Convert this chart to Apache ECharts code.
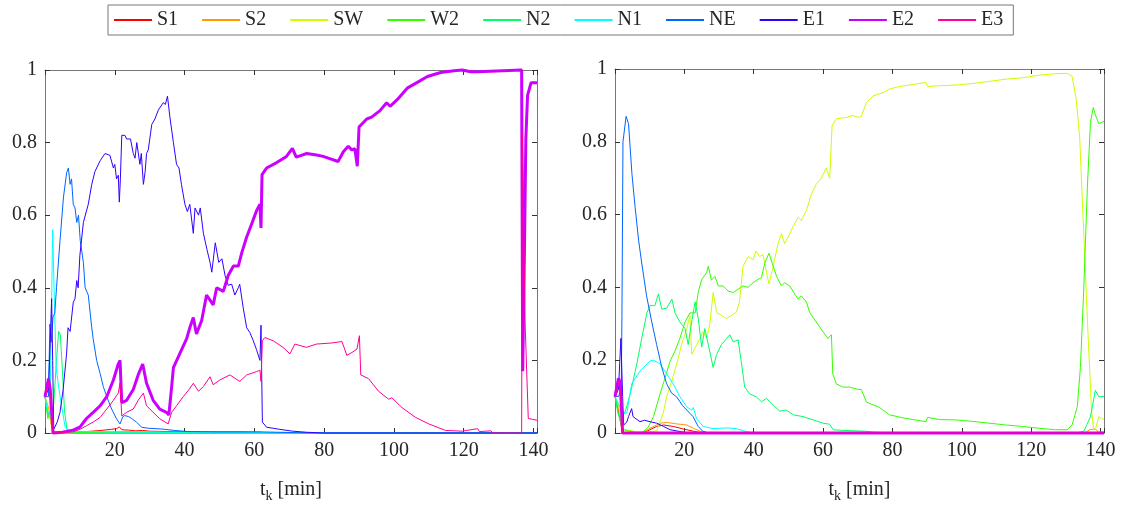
<!DOCTYPE html>
<html>
<head>
<meta charset="utf-8">
<script src="https://cdn.jsdelivr.net/npm/echarts@6/dist/echarts.min.js"></script>
<style>
  html, body { margin: 0; padding: 0; background: #fff; }
  #chart { width: 1123px; height: 508px; }
</style>
</head>
<body>
<div id="chart"></div>
<script>
// series names / colours (MATLAB hsv(10))
var names = ['S1', 'S2', 'SW', 'W2', 'N2', 'N1', 'NE', 'E1', 'E2', 'E3'];
var colors = ['#ff0000', '#ff9900', '#ccff00', '#33ff00', '#00ff66', '#00ffff', '#0066ff', '#3300ff', '#cc00ff', '#ff0099'];
var xTicks = [20, 40, 60, 80, 100, 120, 140];
var yTicks = [0, 0.2, 0.4, 0.6, 0.8, 1];

// ---- left panel: [t_k (min), probability]
var L_S1 = [[0,0.1],[0.8,0.06],[1.5,0.04],[2.3,0],[8,0.002],[12,0.004],[16,0.007],[19,0.01],[20.5,0.012],[21.3,0.017],[22,0.009],[24,0.008],[26,0.006],[28,0.007],[30,0.005],[35,0.004],[45,0.003],[55,0.003],[62,0.002],[63,0],[141,0]];
var L_S2 = [[0,0.1],[1,0.07],[2.3,0],[10,0.001],[20,0.003],[25,0.004],[35,0.002],[50,0.001],[60,0],[141,0]];
var L_SW = [[0,0.1],[1,0.06],[2.3,0],[141,0]];
var L_W2 = [[0,0.1],[0.8,0.04],[1.5,0.06],[2.3,0.005],[6,0.001],[141,0]];
var L_N2 = [[0,0.1],[0.8,0.05],[1.8,0.06],[2.5,0.08],[3.3,0.2],[3.9,0.28],[4.4,0.27],[5,0.17],[5.6,0.06],[6.3,0.01],[8,0.003],[20,0.002],[40,0.001],[141,0]];
var L_N1 = [[0,0.1],[0.8,0.06],[1.4,0.05],[1.8,0.3],[2.2,0.56],[2.6,0.4],[3.2,0.18],[4,0.12],[5,0.06],[5.8,0.015],[7,0.005],[20,0.003],[40,0.002],[80,0.001],[141,0]];
var L_NE = [[0,0.1],[1,0.1],[1.4,0.3],[1.8,0.25],[2.3,0.32],[2.8,0.33],[3.3,0.4],[4.3,0.53],[5.3,0.65],[6.2,0.717],[6.7,0.73],[7.2,0.685],[7.6,0.7],[8.1,0.63],[8.6,0.62],[9.1,0.58],[9.6,0.6],[10.1,0.53],[11,0.47],[11.5,0.4],[12.4,0.38],[13.4,0.29],[13.8,0.26],[14.8,0.2],[15.8,0.164],[16.7,0.128],[17.7,0.1],[19.1,0.066],[20.5,0.039],[21.5,0.025],[21.8,0.022],[22.3,0.045],[22.9,0.048],[24,0.045],[24.8,0.04],[26.2,0.03],[27.7,0.016],[29.6,0.013],[33.4,0.011],[37.2,0.007],[41,0.004],[50,0.003],[62,0.003],[72,0.001],[80,0],[141,0]];
var L_E1 = [[0,0.1],[1,0.12],[1.5,0.25],[1.9,0.37],[2.2,0.2],[2.5,0.01],[3.5,0.03],[4.3,0.057],[5.2,0.12],[6.2,0.22],[6.6,0.29],[7.2,0.28],[8.1,0.36],[8.6,0.37],[9.1,0.42],[9.5,0.4],[10,0.49],[11,0.58],[12.4,0.63],[13.4,0.685],[14.3,0.72],[15.8,0.75],[17.2,0.77],[18.6,0.765],[19.6,0.73],[20,0.74],[20.5,0.7],[21,0.71],[21.3,0.636],[21.6,0.7],[22,0.82],[22.9,0.82],[23.4,0.81],[23.9,0.815],[24.5,0.81],[25.3,0.77],[25.8,0.757],[26.3,0.8],[27.2,0.74],[27.6,0.77],[28.2,0.685],[28.7,0.72],[29.1,0.77],[29.6,0.78],[30.6,0.85],[31.5,0.865],[32.5,0.89],[33.9,0.91],[34.5,0.905],[35.1,0.928],[35.8,0.87],[36.8,0.8],[37.7,0.74],[38.4,0.73],[39.1,0.685],[40.1,0.63],[40.8,0.61],[41.5,0.63],[42.5,0.55],[43,0.62],[44,0.6],[44.5,0.62],[45.4,0.55],[46.4,0.506],[47.3,0.47],[47.8,0.443],[48.8,0.524],[49.8,0.47],[50.7,0.48],[51.6,0.434],[52.5,0.407],[53.5,0.41],[54.4,0.38],[55.4,0.4],[55.8,0.41],[56.8,0.345],[57.8,0.29],[58.7,0.277],[59.7,0.254],[60.6,0.23],[61.6,0.2],[61.9,0.297],[62.3,0.03],[63.5,0.016],[67.3,0.01],[71,0.005],[75,0.002],[80,0],[141,0]];
var L_E2 = [[0,0.1],[1,0.15],[1.5,0.12],[2.3,0],[5,0.002],[8,0.008],[10,0.016],[11.9,0.04],[13.8,0.057],[15.8,0.075],[17.7,0.1],[19.6,0.146],[21,0.19],[21.5,0.2],[22,0.084],[23.4,0.09],[25.3,0.12],[26.7,0.16],[28,0.19],[29.1,0.137],[31,0.09],[32.9,0.066],[34.8,0.057],[35.5,0.05],[36.3,0.128],[36.8,0.18],[38.7,0.22],[40.6,0.26],[41.5,0.29],[42.5,0.318],[43.4,0.273],[44.9,0.31],[46.3,0.38],[47,0.37],[48.2,0.353],[49.2,0.4],[51.1,0.39],[52.5,0.434],[54,0.46],[55.4,0.46],[56.4,0.497],[57.8,0.54],[59.3,0.578],[60.7,0.614],[61.6,0.63],[61.9,0.565],[62.2,0.712],[63.5,0.73],[66.4,0.745],[69.2,0.762],[70.9,0.784],[72,0.76],[75,0.77],[77.8,0.766],[79.7,0.762],[81.6,0.756],[84,0.748],[85.5,0.775],[86.9,0.79],[87.9,0.78],[88.8,0.783],[89.5,0.735],[90,0.843],[92.2,0.865],[93.6,0.87],[96,0.888],[97.9,0.91],[98.9,0.9],[101,0.919],[103.8,0.95],[106.7,0.966],[109.6,0.982],[113.4,0.993],[117.2,0.998],[119.6,1],[122,0.995],[124,0.995],[124.5,1],[136.6,1],[136.9,0.17],[137.4,0.5],[137.8,0.81],[138.3,0.93],[139.3,0.965],[141,0.965]];
var L_E3 = [[0,0.1],[1,0.14],[1.5,0.11],[2.3,0],[8,0.003],[10,0.01],[11.9,0.02],[13.8,0.03],[15.8,0.043],[17.7,0.066],[19.6,0.09],[21,0.11],[21.5,0.137],[22,0.047],[23.4,0.057],[25.3,0.066],[26.7,0.09],[28.2,0.11],[29.1,0.075],[31,0.057],[32.9,0.039],[35.3,0.025],[36.3,0.057],[37.7,0.075],[39.6,0.1],[41.3,0.12],[42.5,0.137],[44,0.115],[45.4,0.128],[47.3,0.155],[48.2,0.133],[50.1,0.146],[53,0.16],[55.8,0.142],[57.8,0.16],[60.6,0.169],[61.6,0.173],[61.9,0.142],[62.3,0.254],[63,0.263],[65.4,0.254],[68.2,0.236],[70.2,0.218],[71.6,0.245],[74.9,0.236],[77.8,0.245],[82.2,0.248],[85.1,0.252],[86.5,0.214],[88,0.222],[89.4,0.231],[90.1,0.268],[90.5,0.16],[92.7,0.15],[95.6,0.115],[98.5,0.093],[99.4,0.097],[102.3,0.07],[106.2,0.043],[110,0.025],[114.8,0.007],[119.6,0.005],[124,0.012],[124.5,0.004],[127.8,0.006],[128.3,0],[136.6,0],[136.8,0.83],[137.1,0.83],[137.6,0.3],[138.5,0.04],[141,0.035]];

// ---- right panel
var R_S1 = [[0,0.1],[1,0.06],[2.2,0],[8,0.001],[9.2,0.005],[12,0.018],[14,0.022],[16.8,0.018],[19.7,0.011],[22.6,0.005],[25,0],[141,0]];
var R_S2 = [[0,0.1],[1,0.07],[2.2,0],[8,0.002],[10.1,0.013],[13,0.027],[14.9,0.029],[17.8,0.025],[20.7,0.022],[22.6,0.013],[24.5,0.005],[27,0],[135.5,0],[137,0.01],[138.5,0.01],[139.5,0.003],[141,0.002]];
var R_SW = [[0,0.1],[1,0.08],[2.2,0.01],[8,0.001],[12,0.006],[13.9,0.054],[14.9,0.1],[16.4,0.144],[17.8,0.19],[19.2,0.243],[20.7,0.287],[21.6,0.323],[22.1,0.216],[23.1,0.234],[24.5,0.26],[25.4,0.278],[26.4,0.26],[27.3,0.296],[28.3,0.386],[29.3,0.332],[30.7,0.323],[32.2,0.314],[33.5,0.323],[35,0.332],[35.9,0.36],[36.9,0.458],[38.4,0.485],[39.8,0.476],[40.6,0.5],[41.7,0.485],[42.7,0.49],[43.7,0.44],[44.4,0.409],[45.6,0.458],[47,0.52],[48,0.548],[48.9,0.52],[49.9,0.538],[51.3,0.566],[52.8,0.593],[53.7,0.584],[55.2,0.611],[56.6,0.656],[58,0.683],[59.5,0.7],[60.9,0.728],[61.9,0.7],[62.6,0.845],[63.8,0.863],[66.7,0.867],[68.6,0.872],[70.3,0.867],[71,0.87],[72.5,0.908],[74.4,0.926],[77.3,0.935],[79.1,0.945],[82,0.952],[85.8,0.957],[89.7,0.963],[90.1,0.952],[93.5,0.954],[98.3,0.956],[103,0.96],[107.9,0.966],[112.7,0.972],[117.5,0.976],[122.3,0.983],[127,0.987],[130.4,0.988],[131.8,0.98],[133,0.916],[134,0.81],[135.2,0.54],[136.4,0.27],[137.4,0.063],[138,0.01],[138.6,0.014],[139.5,0.045],[141,0.037]];
var R_W2 = [[0,0.1],[1,0.05],[2.2,0.01],[6,0.001],[8,0.003],[9.5,0.015],[11.1,0.045],[13,0.108],[14.4,0.15],[15.9,0.198],[17.3,0.225],[18.7,0.26],[20.2,0.305],[21.6,0.33],[23.1,0.33],[24,0.386],[25,0.422],[26.4,0.44],[26.9,0.458],[27.8,0.42],[28.8,0.43],[29.8,0.404],[31.2,0.404],[32.6,0.39],[34.1,0.386],[35.5,0.395],[36.9,0.404],[38.4,0.4],[39.8,0.413],[41.2,0.422],[42.2,0.426],[43.2,0.467],[44.4,0.494],[45.6,0.458],[46.6,0.43],[48,0.404],[48.9,0.413],[50.4,0.404],[51.8,0.382],[52.8,0.368],[53.7,0.377],[55.2,0.36],[56.1,0.332],[58,0.305],[60,0.278],[61.4,0.26],[62.4,0.27],[62.8,0.162],[63.8,0.135],[65.7,0.126],[67.6,0.126],[70,0.12],[71,0.12],[72.5,0.085],[76.3,0.07],[79.1,0.05],[83.9,0.04],[89.7,0.031],[90.1,0.043],[93.5,0.037],[98.3,0.036],[103,0.032],[107.9,0.027],[112.7,0.022],[117.5,0.018],[122.3,0.013],[127,0.009],[130.4,0.009],[131.8,0.022],[133.3,0.072],[134.2,0.18],[135.2,0.404],[136.2,0.674],[137.1,0.854],[137.9,0.894],[138.5,0.874],[139.5,0.85],[141,0.856]];
var R_N2 = [[0,0.1],[1,0.05],[2,0.04],[3,0.06],[4.4,0.108],[6.3,0.19],[7.7,0.26],[9.2,0.33],[10.1,0.35],[11.5,0.35],[12.5,0.382],[13.5,0.34],[14.9,0.343],[16.4,0.368],[17.3,0.33],[18.7,0.305],[20.2,0.287],[21.1,0.243],[22.1,0.305],[23.1,0.36],[24,0.315],[25,0.236],[25.9,0.287],[26.9,0.243],[28.3,0.18],[29.3,0.216],[30.7,0.243],[32.2,0.26],[33.1,0.27],[34.1,0.25],[35.5,0.256],[36.5,0.19],[37.4,0.126],[38.8,0.108],[40.8,0.099],[42.2,0.086],[43.7,0.095],[45.6,0.077],[47.5,0.06],[49.4,0.063],[51.4,0.05],[54.2,0.045],[57.1,0.036],[60,0.027],[61.9,0.024],[62.9,0.009],[65.7,0.007],[72,0.005],[75,0.002],[80,0.001],[133,0],[135.2,0.005],[137.1,0.045],[138.5,0.117],[139.5,0.1],[141,0.1]];
var R_N1 = [[0,0.1],[1,0.08],[2,0.06],[3.4,0.054],[4.8,0.135],[7.2,0.17],[10.1,0.198],[11.1,0.2],[13,0.19],[14.9,0.162],[16.8,0.135],[18.7,0.1],[20.7,0.072],[22.1,0.063],[22.6,0.07],[23.5,0.04],[25.4,0.018],[28.3,0.012],[32.1,0.014],[35,0.012],[37.4,0.005],[40,0],[141,0]];
var R_NE = [[0,0.1],[1,0.1],[1.8,0.12],[2,0.32],[2.3,0.8],[3.2,0.87],[3.9,0.85],[4.9,0.71],[5.8,0.62],[6.8,0.53],[7.7,0.467],[9.1,0.377],[10.6,0.305],[12,0.243],[13.5,0.18],[14.9,0.135],[16.3,0.11],[17.8,0.099],[19.5,0.075],[21.6,0.054],[22.5,0.045],[24,0.018],[25.3,0.005],[27,0],[141,0]];
var R_E1 = [[0,0.1],[1,0.12],[1.7,0.26],[2.2,0.1],[2.5,0.022],[3.4,0.03],[3.9,0.045],[4.8,0.067],[5.2,0.045],[7.2,0.031],[8.5,0.035],[10.1,0.031],[12,0.027],[14,0.018],[15.9,0.009],[18.8,0.004],[21,0],[141,0]];
var R_E2 = [[0,0.1],[1,0.15],[1.5,0.14],[2.2,0],[141,0]];
var R_E3 = [[0,0.1],[1,0.14],[1.5,0.12],[2.2,0],[141,0]];

var leftData = [L_S1, L_S2, L_SW, L_W2, L_N2, L_N1, L_NE, L_E1, L_E2, L_E3];
var rightData = [R_S1, R_S2, R_SW, R_W2, R_N2, R_N1, R_NE, R_E1, R_E2, R_E3];

var FONT = 'Liberation Serif';
var TXT = '#262626';
var AXIS = '#777';

var chart = echarts.init(document.getElementById('chart'));

function xAx(grid, pos, labels) {
  return {
    type: 'value', gridIndex: grid, position: pos,
    min: 0, max: 141, interval: 20,
    axisLine: { show: true, onZero: false, lineStyle: { color: AXIS, width: 1 } },
    axisTick: { show: true, inside: true, length: 5, lineStyle: { color: '#333' } },
    splitLine: { show: false },
    axisLabel: {
      show: labels, color: TXT, fontFamily: FONT, fontSize: 20, margin: 8,
      formatter: function (v) { return xTicks.indexOf(v) >= 0 ? String(v) : ''; }
    },
    name: labels ? '{t|t}{k|k}{t| [min]}' : '',
    nameLocation: 'middle', nameGap: 44,
    nameTextStyle: {
      rich: {
        t: { fontFamily: FONT, fontSize: 20, color: TXT },
        k: { fontFamily: FONT, fontSize: 14, color: TXT, padding: [12, 0, 0, 0] }
      }
    }
  };
}
function yAx(grid, pos, labels) {
  return {
    type: 'value', gridIndex: grid, position: pos,
    min: 0, max: 1, interval: 0.2,
    axisLine: { show: true, onZero: false, lineStyle: { color: AXIS, width: 1 } },
    axisTick: { show: true, inside: true, length: 5, lineStyle: { color: '#333' } },
    splitLine: { show: false },
    axisLabel: {
      show: labels, color: TXT, fontFamily: FONT, fontSize: 20, margin: 8,
      formatter: function (v) { var r = Math.round(v * 10) / 10; return yTicks.indexOf(r) >= 0 ? String(r) : ''; }
    }
  };
}

var series = [];
[leftData, rightData].forEach(function (set, gi) {
  set.forEach(function (d, i) {
    series.push({
      name: names[i], type: 'line', xAxisIndex: gi, yAxisIndex: gi,
      data: d, showSymbol: false, symbol: 'none', clip: false, animation: false,
      lineStyle: { color: colors[i], width: names[i] === 'E2' ? 3 : 1 },
      itemStyle: { color: colors[i] }
    });
  });
});

var option = {
  backgroundColor: '#fff',
  animation: false,
  legend: {
    data: names, left: 108, top: 5,
    padding: [5, 10, 5, 5], itemGap: 23, itemWidth: 38, itemHeight: 14,
    itemStyle: { opacity: 0 },
    borderColor: '#777', borderWidth: 1,
    textStyle: { fontFamily: FONT, fontSize: 20, color: TXT }
  },
  grid: [
    { left: 45, top: 70, width: 492, height: 371 },
    { left: 615, top: 69, width: 489, height: 371 }
  ],
  xAxis: [xAx(0, 'bottom', true), xAx(1, 'bottom', true), xAx(0, 'top', false), xAx(1, 'top', false)],
  yAxis: [yAx(0, 'left', true), yAx(1, 'left', true), yAx(0, 'right', false), yAx(1, 'right', false)],
  series: series
};
chart.setOption(option);
</script>
</body>
</html>
